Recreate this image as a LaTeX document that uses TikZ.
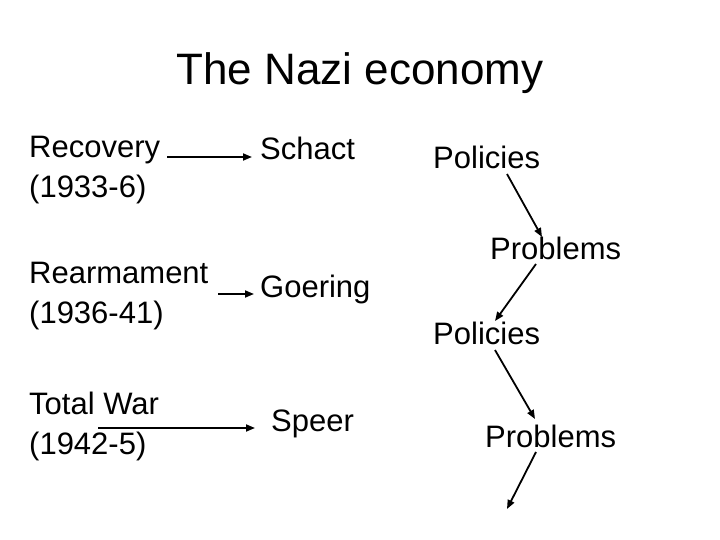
\documentclass[tikz,border=0pt]{standalone}
\usepackage{fontspec}
\setmainfont{Liberation Sans}
\usetikzlibrary{arrows.meta}
\begin{document}
\begin{tikzpicture}[x=1pt,y=-1pt,
  body/.style={anchor=base west,inner sep=0pt,align=left,font=\fontsize{31}{40}\selectfont},
  titletext/.style={anchor=base,inner sep=0pt,font=\fontsize{44}{50}\selectfont},
  conn/.style={line width=1.8pt,-{Triangle[length=9pt,width=7pt]}}]
\useasboundingbox (0,0) rectangle (720,540);
\fill[white] (0,0) rectangle (720,540);
\node[titletext] (title) at (360,85) {The Nazi economy};
\node[body] (rec) at (29,198) {Recovery\\(1933-6)};
\node[body] (rea) at (29,323) {Rearmament\\(1936-41)};
\node[body] (tot) at (29,454) {Total War\\(1942-5)};
\node[body] (sch) at (260,160) {Schact};
\node[body] (goe) at (260,297) {Goering};
\node[body] (spe) at (271,431) {Speer};
\node[body] (pol1) at (433,169) {Policies};
\node[body] (pro1) at (490,259) {Problems};
\node[body] (pol2) at (433,344) {Policies};
\node[body] (pro2) at (485,447) {Problems};
\coordinate (r1) at (167,157); \coordinate (r2) at (252,157);
\coordinate (m1) at (218,294); \coordinate (m2) at (254,294);
\coordinate (t1) at (98,428); \coordinate (t2) at (255,428);
\coordinate (a1) at (507,174); \coordinate (a2) at (542,237);
\coordinate (b1) at (536,264); \coordinate (b2) at (495,321);
\coordinate (c1) at (495,350); \coordinate (c2) at (535,419);
\coordinate (d1) at (536,452); \coordinate (d2) at (507,509);
\draw[conn] (r1) -- (r2);
\draw[conn] (m1) -- (m2);
\draw[conn] (t1) -- (t2);
\draw[conn] (a1) -- (a2);
\draw[conn] (b1) -- (b2);
\draw[conn] (c1) -- (c2);
\draw[conn] (d1) -- (d2);
\end{tikzpicture}
\end{document}
